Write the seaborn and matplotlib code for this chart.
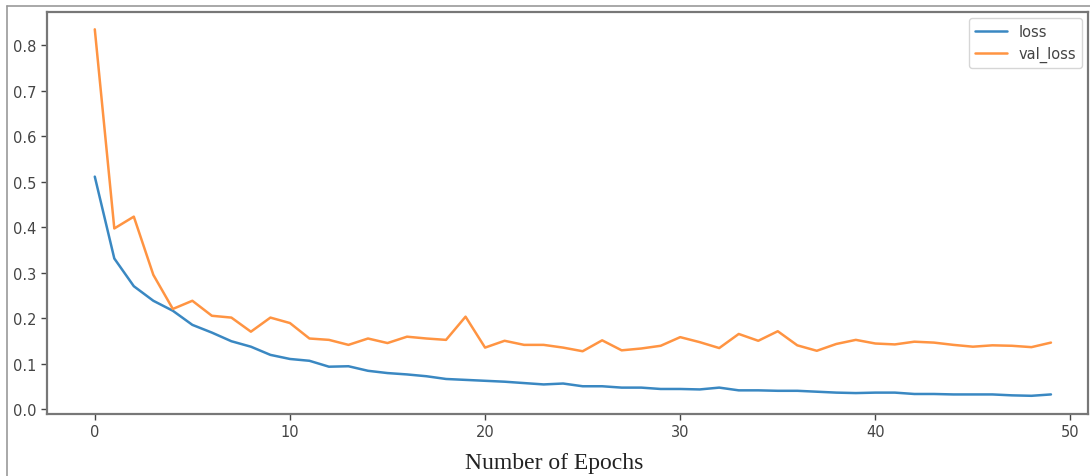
import numpy as np
import pandas as pd
import matplotlib
matplotlib.use("Agg")
import matplotlib.pyplot as plt
import seaborn as sns
from matplotlib.lines import Line2D

# valores
epochs = list(range(50))
loss = [0.511, 0.331, 0.270, 0.238, 0.216, 0.185, 0.168, 0.149, 0.137, 0.119,
        0.110, 0.106, 0.093, 0.094, 0.084, 0.079, 0.076, 0.072, 0.066, 0.064,
        0.062, 0.060, 0.057, 0.054, 0.056, 0.050, 0.050, 0.047, 0.047, 0.044,
        0.044, 0.043, 0.047, 0.041, 0.041, 0.040, 0.040, 0.038, 0.036, 0.035,
        0.036, 0.036, 0.033, 0.033, 0.032, 0.032, 0.032, 0.030, 0.029, 0.032]
val_loss = [0.835, 0.397, 0.423, 0.295, 0.220, 0.238, 0.205, 0.201, 0.170, 0.201,
            0.189, 0.155, 0.152, 0.141, 0.155, 0.145, 0.159, 0.155, 0.152, 0.203,
            0.135, 0.150, 0.141, 0.141, 0.135, 0.127, 0.151, 0.129, 0.133, 0.139,
            0.158, 0.147, 0.134, 0.165, 0.150, 0.171, 0.140, 0.128, 0.143, 0.152,
            0.144, 0.142, 0.148, 0.146, 0.141, 0.137, 0.140, 0.139, 0.136, 0.146]
series_names = ['loss', 'val_loss']
cores = ['#3a88c2', '#ff9442']

df = pd.DataFrame({'epoch': epochs * 2,
                   'value': loss + val_loss,
                   'serie': [series_names[0]] * 50 + [series_names[1]] * 50})

sns.set_theme(style="ticks")
plt.rcParams['font.family'] = ['DejaVu Sans']

fig = plt.figure(figsize=(10.9, 4.77), dpi=100)
ax = fig.add_axes([0.0431, 0.13, 0.9551, 0.8427])

sns.lineplot(data=df, x='epoch', y='value', hue='serie', palette=cores,
             linewidth=1.8, ax=ax)

ax.set_xlim(-2.45, 50.9)
ax.set_ylim(-0.011, 0.873)
ax.set_xticks([0, 10, 20, 30, 40, 50])
ax.set_yticks(np.arange(0, 0.81, 0.1))
ax.set_yticklabels([f'{v:.1f}' for v in np.arange(0, 0.81, 0.1)])
ax.tick_params(labelsize=10.5, colors='#444444', length=4, width=1)
for s in ax.spines.values():
    s.set_color('#777777')
    s.set_linewidth(1.6)

ax.set_ylabel('')
ax.set_xlabel('Number of Epochs', family='Liberation Serif', fontsize=17,
              color='#222222')
ax.xaxis.set_label_coords(0.487, -0.095)

leg = ax.legend(loc='upper right', fontsize=10.5, frameon=True,
                borderaxespad=0.4, handlelength=2.2)
leg.get_frame().set_edgecolor('#cccccc')
for t in leg.get_texts():
    t.set_color('#444444')

# borda cinza da imagem original
fig.add_artist(Line2D([7 / 1090, 1], [1 - 7 / 477, 1 - 7 / 477],
                      transform=fig.transFigure, color='#999999', lw=1.2))
fig.add_artist(Line2D([7 / 1090, 7 / 1090], [0, 1 - 7 / 477],
                      transform=fig.transFigure, color='#999999', lw=1.2))

fig.savefig('out.png', dpi=100)
